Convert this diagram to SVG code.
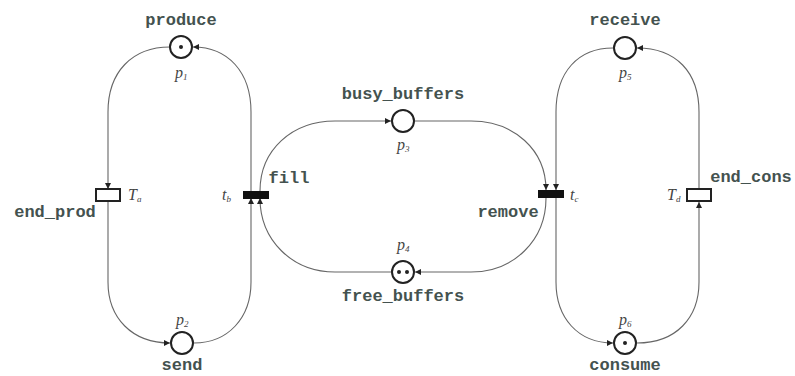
<svg xmlns="http://www.w3.org/2000/svg" width="795" height="376" viewBox="0 0 795 376">
<defs>
<marker id="arr" viewBox="0 0 10 10" refX="10" refY="5" markerWidth="6" markerHeight="6" orient="auto" markerUnits="userSpaceOnUse">
<path d="M0,0 L10,5 L0,10 z" fill="#222"/>
</marker>
<style>
.arc{fill:none;stroke:#666;stroke-width:1.1}
.place{fill:#fff;stroke:#222;stroke-width:2}
.tok{fill:#222}
.trw{fill:#fff;stroke:#222;stroke-width:2}
.trb{fill:#111;stroke:#111;stroke-width:1}
.lbl{font-family:"Liberation Mono","DejaVu Sans Mono",monospace;font-size:17px;font-weight:bold;fill:#44524f;text-anchor:middle}
.sub{font-family:"Liberation Serif","DejaVu Serif",serif;font-style:italic;font-size:16px;fill:#444}
.sm{font-size:9px}
</style>
</defs>
<rect width="795" height="376" fill="#fff"/>
<g id="connectors">
<path class="arc" d="M170,47 C132,47 108,72 108,112 L108,189" marker-end="url(#arr)"/>
<path class="arc" d="M108,201 L108,282 C108,318 132,343 170,343" marker-end="url(#arr)"/>
<path class="arc" d="M194,343 C228,343 251,318 251,282 L251,198" marker-end="url(#arr)"/>
<path class="arc" d="M251,191 L251,112 C251,72 228,47 193,47" marker-end="url(#arr)"/>
<path class="arc" d="M260,191 C260,150 292,121 335,121 L391,121" marker-end="url(#arr)"/>
<path class="arc" d="M415,121 L471,121 C514,121 546,150 546,190" marker-end="url(#arr)"/>
<path class="arc" d="M546,198 C546,240 514,272 471,272 L415,272" marker-end="url(#arr)"/>
<path class="arc" d="M391,272 L335,272 C292,272 260,240 260,198" marker-end="url(#arr)"/>
<path class="arc" d="M613,48 C578,48 556,72 556,112 L556,190" marker-end="url(#arr)"/>
<path class="arc" d="M556,198 L556,282 C556,318 578,343 613,343" marker-end="url(#arr)"/>
<path class="arc" d="M637,343 C676,343 699,318 699,282 L699,202" marker-end="url(#arr)"/>
<path class="arc" d="M699,189 L699,112 C699,72 676,48 637,48" marker-end="url(#arr)"/>
</g>
<g id="p1">
<circle class="place" cx="181" cy="47" r="11"/><circle class="tok" cx="181" cy="47" r="2"/>
<text class="lbl" x="181" y="25">produce</text>
<text class="sub" x="175" y="78">p<tspan class="sm" dy="2">1</tspan></text>
</g>
<g id="p2">
<circle class="place" cx="182" cy="343" r="11"/>
<text class="lbl" x="182" y="370">send</text>
<text class="sub" x="176" y="325">p<tspan class="sm" dy="2">2</tspan></text>
</g>
<g id="p3">
<circle class="place" cx="403" cy="121" r="11"/>
<text class="lbl" x="403" y="99">busy_buffers</text>
<text class="sub" x="397" y="150">p<tspan class="sm" dy="2">3</tspan></text>
</g>
<g id="p4">
<circle class="place" cx="403" cy="272" r="11"/>
<circle class="tok" cx="399" cy="272" r="2"/><circle class="tok" cx="407" cy="272" r="2"/>
<text class="lbl" x="403" y="301">free_buffers</text>
<text class="sub" x="397" y="250">p<tspan class="sm" dy="2">4</tspan></text>
</g>
<g id="p5">
<circle class="place" cx="625" cy="48" r="11"/>
<text class="lbl" x="625" y="25">receive</text>
<text class="sub" x="619" y="78">p<tspan class="sm" dy="2">5</tspan></text>
</g>
<g id="p6">
<circle class="place" cx="625" cy="343" r="11"/><circle class="tok" cx="625" cy="343" r="2"/>
<text class="lbl" x="625" y="370">consume</text>
<text class="sub" x="619" y="325">p<tspan class="sm" dy="2">6</tspan></text>
</g>
<g id="Ta">
<rect class="trw" x="96" y="189" width="24" height="12"/>
<text class="lbl" x="55" y="217">end_prod</text>
<text class="sub" x="128" y="200">T<tspan class="sm" dy="2">a</tspan></text>
</g>
<g id="tb">
<rect class="trb" x="243.5" y="191.5" width="25" height="7"/>
<text class="lbl" x="289" y="183">fill</text>
<text class="sub" x="222" y="200">t<tspan class="sm" dy="2">b</tspan></text>
</g>
<g id="tc">
<rect class="trb" x="538.5" y="190.5" width="25" height="7"/>
<text class="lbl" x="508" y="217">remove</text>
<text class="sub" x="570" y="200">t<tspan class="sm" dy="2">c</tspan></text>
</g>
<g id="Td">
<rect class="trw" x="687" y="189" width="24" height="12"/>
<text class="lbl" x="751" y="182">end_cons</text>
<text class="sub" x="667" y="200">T<tspan class="sm" dy="2">d</tspan></text>
</g>
</svg>
